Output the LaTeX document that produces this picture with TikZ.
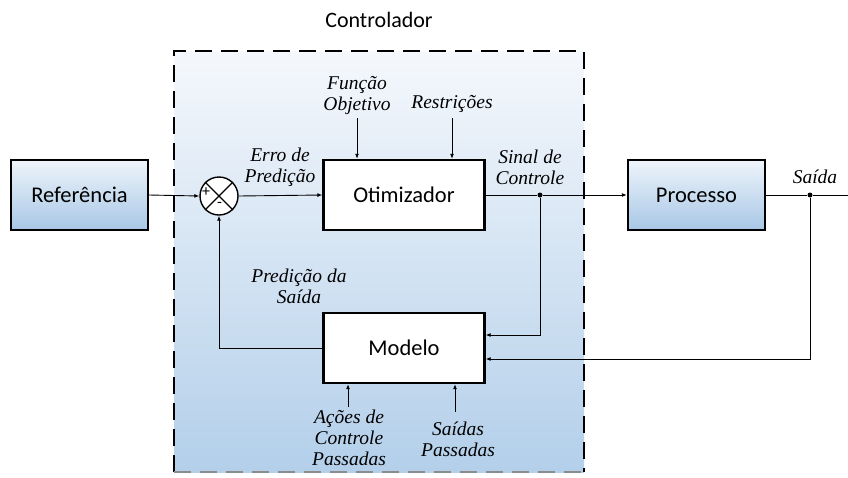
\documentclass[tikz,border=0pt]{standalone}
\usepackage{fontspec}
\setmainfont{Carlito}
\newfontfamily\lblfont{Liberation Serif}
\usetikzlibrary{arrows.meta}
\definecolor{boxtop}{HTML}{EEF4FB}
\definecolor{boxbot}{HTML}{A8C7E6}
\definecolor{ctop}{HTML}{F5F8FC}
\definecolor{cbot}{HTML}{B3CFEA}
\tikzset{
  blk/.style={draw, line width=2.4pt, minimum width=137pt, minimum height=70pt, font=\fontsize{22.5}{26}\selectfont, inner sep=0pt},
  gblk/.style={blk, top color=boxtop, bottom color=boxbot},
  wblk/.style={blk, fill=white, minimum width=161pt},
  conn/.style={line width=0.9pt, -{Latex[length=5pt,width=4pt]}},
  wire/.style={line width=0.9pt},
  lbl/.style={font=\lblfont\itshape\fontsize{19.5}{21}\selectfont, align=center, inner sep=0pt},
  dot/.style={circle, fill, inner sep=0pt, minimum size=5pt}
}
\begin{document}
\begin{tikzpicture}[x=1pt,y=-1pt]
\useasboundingbox (0,0) rectangle (848,477);
% controller area
\shade[top color=ctop, bottom color=cbot] (174,51) rectangle (584,472);
\draw[line width=2.6pt, dash pattern=on 17pt off 9pt] (174,472) -- (174,51) -- (584,51) -- (584,472);
\draw[line width=2.6pt, dash pattern=on 17pt off 9pt, black!45] (174,472) -- (584,472);
\node[font=\fontsize{22}{25}\selectfont] (ctl) at (379,20) {Controlador};
% blocks
\node[gblk] (ref) at (79.5,195) {Referência};
\node[wblk] (opt) at (404,195) {Otimizador};
\node[gblk] (proc) at (696.5,195) {Processo};
\node[wblk] (mod) at (404,348) {Modelo};
\node[draw, circle, line width=1.4pt, minimum size=38pt, inner sep=0pt, fill=white] (sum) at (219,196) {};
\draw[line width=1.2pt] (sum.north west) -- (sum.south east) (sum.north east) -- (sum.south west);
\node[font=\fontsize{16}{16}\selectfont, inner sep=0pt] (plus) at (206,192) {+};
\node[font=\fontsize{16}{16}\selectfont, inner sep=0pt] (minus) at (219.5,205) {-};
% junction dots
\node[dot] (j1) at (540,195) {};
\node[dot] (j2) at (810,195) {};
\coordinate (outend) at (848,195);
% main connections
\draw[conn] (ref.east) -- (sum.west);
\draw[conn] (sum.east) -- (opt.west);
\draw[wire] (opt.east) -- (j1);
\draw[conn] (j1) -- (proc.west);
\draw[wire] (proc.east) -- (j2);
\draw[wire] (j2) -- (outend);
\draw[conn] (j1) |- ([yshift=13pt]mod.east);
\draw[conn] (j2) |- ([yshift=-11pt]mod.east);
\draw[conn] (mod.west) -| (sum.south);
% inputs
\coordinate (fo) at (357,118);
\coordinate (rs) at (452,118);
\draw[conn] (fo) -- (fo |- opt.north);
\draw[conn] (rs) -- (rs |- opt.north);
\coordinate (ac) at (348,407);
\coordinate (sp) at (455,412);
\draw[conn] (ac) -- (ac |- mod.south);
\draw[conn] (sp) -- (sp |- mod.south);
% labels
\node[lbl] (lfo) at (357,95) {Função\\Objetivo};
\node[lbl] (lrs) at (452,104) {Restrições};
\node[lbl] (ler) at (280,167) {Erro de\\Predição};
\node[lbl] (lsc) at (530,167) {Sinal de\\Controle};
\node[lbl] (lsa) at (815,177) {Saída};
\node[lbl] (lps) at (299,286) {Predição da\\Saída};
\node[lbl] (lac) at (349,438) {Ações de\\Controle\\Passadas};
\node[lbl] (lsp) at (458,439) {Saídas\\Passadas};
\end{tikzpicture}
\end{document}
